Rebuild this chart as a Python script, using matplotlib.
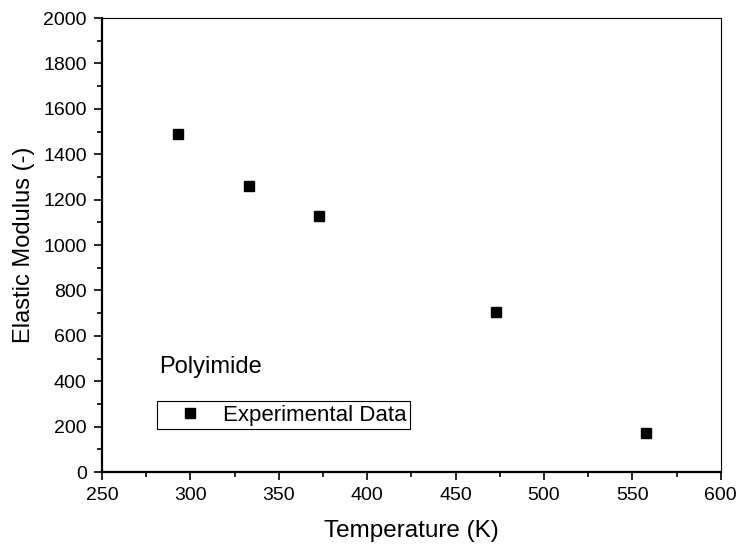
import matplotlib.pyplot as plt
from matplotlib.ticker import MultipleLocator

temperature = [293, 333, 373, 473, 558]
modulus = [1490, 1260, 1130, 705, 174]

plt.rcParams['font.family'] = ['Liberation Sans', 'DejaVu Sans']

fig = plt.figure(figsize=(7.38, 5.46), dpi=100)
ax = fig.add_axes([0.1382, 0.1355, 0.8384, 0.8315])

ax.plot(temperature, modulus, linestyle='none', marker='s', markersize=7,
        color='black', label='Experimental Data')

ax.set_xlim(250, 600)
ax.set_ylim(0, 2000)
ax.xaxis.set_major_locator(MultipleLocator(50))
ax.xaxis.set_minor_locator(MultipleLocator(25))
ax.yaxis.set_major_locator(MultipleLocator(200))
ax.yaxis.set_minor_locator(MultipleLocator(100))

ax.tick_params(which='both', direction='out', labelsize=14, width=1.2,
               top=False, right=False, pad=5)
ax.tick_params(which='major', length=6)
ax.tick_params(which='minor', length=3.5)
for side in ['left', 'bottom']:
    ax.spines[side].set_linewidth(1.6)
for side in ['top', 'right']:
    ax.spines[side].set_linewidth(0.8)

ax.set_xlabel('Temperature (K)', fontsize=17.5, labelpad=11)
ax.set_ylabel('Elastic Modulus (-)', fontsize=17, labelpad=6)

ax.text(0.093, 0.232, 'Polyimide', transform=ax.transAxes, fontsize=17,
        va='center', ha='left')

leg = ax.legend(loc='lower left', bbox_to_anchor=(0.089, 0.095),
                borderaxespad=0, fancybox=False, edgecolor='black',
                framealpha=1, fontsize=16, handlelength=2.67,
                handletextpad=0.15, borderpad=0.15)
leg.get_frame().set_linewidth(0.8)

fig.savefig('out.png', dpi=100)
